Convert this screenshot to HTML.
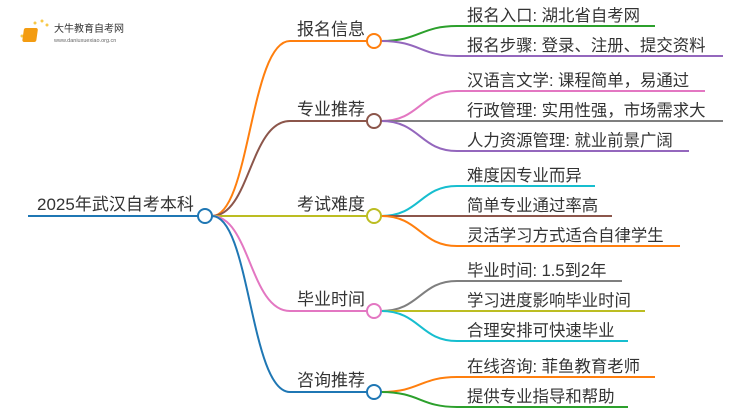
<!DOCTYPE html>
<html><head><meta charset="utf-8"><style>
body{margin:0;background:#fff;}
svg text{font-family:"Liberation Sans","Noto Sans CJK SC",sans-serif;fill:#333;}
</style></head><body>
<svg width="750" height="410" viewBox="0 0 750 410" xmlns="http://www.w3.org/2000/svg">
<g>
<circle cx="30" cy="30" r="1.5" fill="#f7c948"/><circle cx="35" cy="23" r="1.5" fill="#f7c948"/><circle cx="42" cy="21" r="1.5" fill="#f7c948"/><circle cx="22" cy="36" r="1.5" fill="#f7c948"/><circle cx="47" cy="25" r="1.5" fill="#f7c948"/>
<rect x="28" y="28" width="14" height="14" rx="2" fill="#f39c12" transform="skewX(-8)"/>
<text x="54" y="32" font-size="10" style="fill:#333">大牛教育自考网</text>
<text x="54" y="42" font-size="5.5" style="fill:#666">www.daniuxuexiao.org.cn</text>
</g>
<g fill="none" stroke-width="2">
<path d="M28 216 H198" stroke="#1f77b4"/>
<path d="M212 216 C250 216,250 41,290 41 H367" stroke="#ff7f0e"/>
<path d="M212 216 C250 216,250 121,290 121 H367" stroke="#8c564b"/>
<path d="M212 216 H367" stroke="#bcbd22"/>
<path d="M212 216 C250 216,250 311,290 311 H367" stroke="#e377c2"/>
<path d="M212 216 C250 216,250 392,290 392 H367" stroke="#1f77b4"/>
<path d="M381 41 C420 41,420 26,457 26 H655" stroke="#2ca02c"/>
<path d="M381 41 C420 41,420 56,457 56 H723" stroke="#9467bd"/>
<path d="M381 121 C420 121,420 91,457 91 H705" stroke="#e377c2"/>
<path d="M381 121 H723" stroke="#7f7f7f"/>
<path d="M381 121 C420 121,420 151,457 151 H689" stroke="#9467bd"/>
<path d="M381 216 C420 216,420 186,457 186 H595" stroke="#17becf"/>
<path d="M381 216 H612" stroke="#8c564b"/>
<path d="M381 216 C420 216,420 246,457 246 H680" stroke="#ff7f0e"/>
<path d="M381 311 C420 311,420 281,457 281 H622" stroke="#7f7f7f"/>
<path d="M381 311 H645" stroke="#bcbd22"/>
<path d="M381 311 C420 311,420 341,457 341 H628" stroke="#17becf"/>
<path d="M381 392 C420 392,420 377,457 377 H655" stroke="#ff7f0e"/>
<path d="M381 392 C420 392,420 407,457 407 H628" stroke="#2ca02c"/>
</g>
<g fill="#fff" stroke-width="2">
<circle cx="205" cy="216" r="7" stroke="#1f77b4"/>
<circle cx="374" cy="41" r="7" stroke="#ff7f0e"/>
<circle cx="374" cy="121" r="7" stroke="#8c564b"/>
<circle cx="374" cy="216" r="7" stroke="#bcbd22"/>
<circle cx="374" cy="311" r="7" stroke="#e377c2"/>
<circle cx="374" cy="392" r="7" stroke="#1f77b4"/>
</g>
<g font-size="17">
<text x="37" y="210">2025年武汉自考本科</text>
<text x="297" y="35">报名信息</text>
<text x="297" y="115">专业推荐</text>
<text x="297" y="210">考试难度</text>
<text x="297" y="305">毕业时间</text>
<text x="297" y="386">咨询推荐</text>
</g>
<g font-size="16.4">
<text x="467" y="21">报名入口: 湖北省自考网</text>
<text x="467" y="51">报名步骤: 登录、注册、提交资料</text>
<text x="467" y="86">汉语言文学: 课程简单，易通过</text>
<text x="467" y="116">行政管理: 实用性强，市场需求大</text>
<text x="467" y="146">人力资源管理: 就业前景广阔</text>
<text x="467" y="181">难度因专业而异</text>
<text x="467" y="211">简单专业通过率高</text>
<text x="467" y="241">灵活学习方式适合自律学生</text>
<text x="467" y="276">毕业时间: 1.5到2年</text>
<text x="467" y="306">学习进度影响毕业时间</text>
<text x="467" y="336">合理安排可快速毕业</text>
<text x="467" y="372">在线咨询: 菲鱼教育老师</text>
<text x="467" y="402">提供专业指导和帮助</text>
</g>
</svg>
</body></html>
